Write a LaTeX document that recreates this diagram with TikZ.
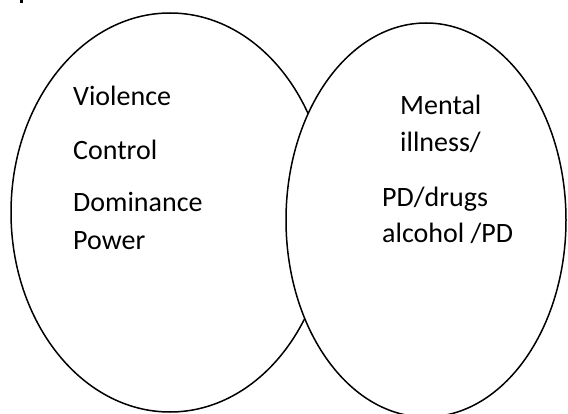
\documentclass[tikz,border=0pt]{standalone}
\usepackage{fontspec}
\setmainfont{Carlito}
\tikzset{
  circ/.style={draw=black, fill=white, line width=1.5pt},
  lbl/.style={anchor=base west, inner sep=0pt, font=\fontsize{28}{32}\selectfont}
}
\begin{document}
\begin{tikzpicture}[x=1pt,y=-1pt]
\useasboundingbox (0,0) rectangle (568,414);
\fill[black] (19.5,0) rectangle (22.5,3.5);
\draw[circ] (170,212.5) ellipse [x radius=159, y radius=199.5];
\draw[circ] (426,220) ellipse [x radius=140, y radius=197];
\node[lbl] (v) at (73,106) {Violence};
\node[lbl] (c) at (73,160) {Control};
\node[lbl] (d) at (73,212) {Dominance};
\node[lbl] (p) at (73,250) {Power};
\node[lbl] (m) at (400,115) {Mental};
\node[lbl] (i) at (400,152) {illness/};
\node[lbl] (pd) at (382,207) {PD/drugs};
\node[lbl] (a) at (382,243) {alcohol /PD};
\end{tikzpicture}
\end{document}
